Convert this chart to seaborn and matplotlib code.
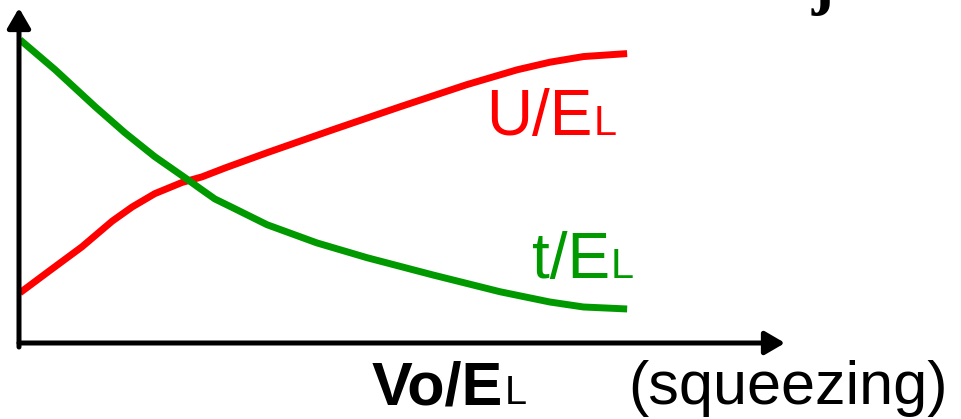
import matplotlib
matplotlib.use("Agg")
import matplotlib.pyplot as plt
import seaborn as sns
import pandas as pd

# U/EL curve (rises with squeezing)
u_x = [0.0, 0.46, 1.02, 1.52, 1.85, 2.22, 2.67, 3.00, 3.38, 4.07, 5.16,
       6.26, 7.36, 8.19, 8.73, 9.28, 10.0]
u_y = [1.58, 2.21, 2.97, 3.75, 4.18, 4.58, 4.92, 5.09, 5.36, 5.82, 6.52,
       7.21, 7.88, 8.33, 8.56, 8.73, 8.82]

# t/EL curve (falls with squeezing)
t_x = [0.0, 0.58, 1.24, 1.73, 2.22, 2.72, 2.97, 3.21, 3.51, 4.07, 4.89,
       5.72, 6.80, 7.91, 8.73, 9.28, 10.0]
t_y = [9.24, 8.33, 7.21, 6.42, 5.70, 5.06, 4.73, 4.42, 4.15, 3.64, 3.09,
       2.64, 2.12, 1.61, 1.30, 1.15, 1.09]

labels = {"u": ("U/E", "L"), "t": ("t/E", "L"), "x": ("Vo/E", "L")}
note = "(squeezing)"
corner = "j"

RED = "#ff0000"
GREEN = "#009900"
W, H = 961, 419

sns.set_theme(style="white")
plt.rcParams["font.family"] = ["Liberation Sans", "DejaVu Sans"]

fig = plt.figure(figsize=(W / 100, H / 100), dpi=100)
ax = fig.add_axes([19 / W, (H - 343) / H, (785 - 19) / W, (343 - 8) / H])

df_u = pd.DataFrame({"x": u_x, "y": u_y})
df_t = pd.DataFrame({"x": t_x, "y": t_y})
sns.lineplot(data=df_u, x="x", y="y", color=RED, lw=5, ax=ax,
             solid_capstyle="butt", solid_joinstyle="round")
sns.lineplot(data=df_t, x="x", y="y", color=GREEN, lw=5, ax=ax,
             solid_capstyle="butt", solid_joinstyle="round")

ax.set_xlim(-0.016, 12.6)
ax.set_ylim(0.06, 10.2)
ax.set_xticks([])
ax.set_yticks([])
ax.set_xlabel("")
ax.set_ylabel("")
for s in ax.spines.values():
    s.set_visible(False)
ax.patch.set_alpha(0)

# axis arrows
arrow = dict(arrowstyle="-|>,head_length=0.6,head_width=0.35", lw=3.6,
             color="black", shrinkA=0, shrinkB=0, mutation_scale=20)
ax.annotate("", xy=(1, 0), xytext=(0, 0), xycoords="axes fraction",
            arrowprops=arrow, annotation_clip=False)
ax.annotate("", xy=(0, 1), xytext=(0, -0.012), xycoords="axes fraction",
            arrowprops=arrow, annotation_clip=False)


def label(px, py, main, small, color, size, weight="normal"):
    t = fig.text(px / W, 1 - py / H, main, fontsize=size, color=color,
                 fontweight=weight, ha="left", va="baseline")
    fig.canvas.draw()
    bb = t.get_window_extent()
    fig.text((bb.x1 + 1) / W, 1 - py / H, small, fontsize=size * 0.65,
             color=color, ha="left", va="baseline")


label(486, 135, *labels["u"], RED, 46)
label(532, 278, *labels["t"], GREEN, 46)
label(372, 404, *labels["x"], "black", 44, weight="bold")
fig.text(628 / W, 1 - 404 / H, note, fontsize=44, color="black",
         ha="left", va="baseline")

# tail of a heading running off the top edge
fig.text(812 / W, 1 - 2 / H, corner, fontsize=48, color="black",
         family="Liberation Serif", fontweight="bold",
         ha="left", va="baseline")

fig.savefig("out.png", dpi=100)
